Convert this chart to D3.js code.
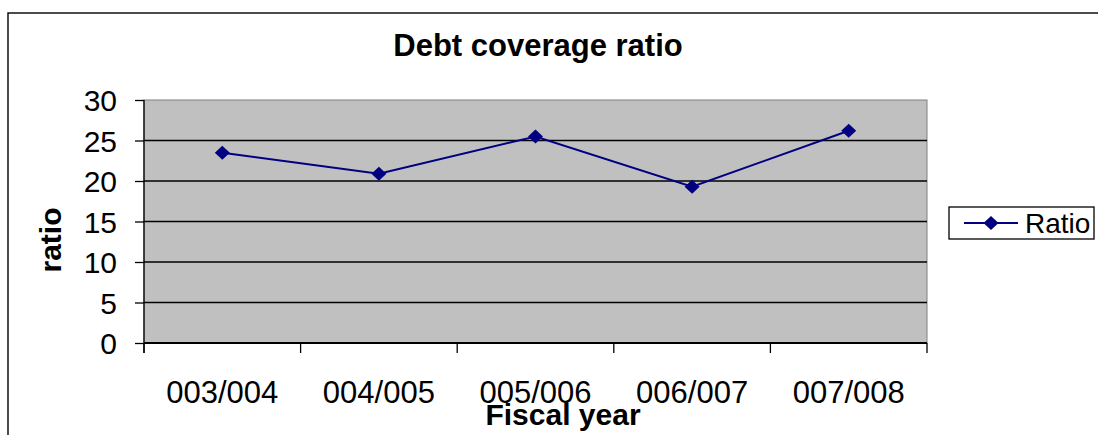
<!DOCTYPE html>
<html>
<head>
<meta charset="utf-8">
<script src="https://cdn.jsdelivr.net/npm/d3@7"></script>
<style>
  body { margin: 0; background: #fff; }
  svg { display: block; font-family: "Liberation Sans", Arial, sans-serif; }
</style>
</head>
<body>
<div id="chart-1"></div>
<script>
// data
var years = ['003/004', '004/005', '005/006', '006/007', '007/008']
var ratioValues = [23.5, 20.9, 25.5, 19.3, 26.2]
var yTicks = [0, 5, 10, 15, 20, 25, 30]
var seriesName = 'Ratio'

var width = 1098
var height = 435

// plot area box
var margin = {
  top: 100,
  right: 171,
  bottom: 92,
  left: 144
}

var svg = d3.select('#chart-1').append('svg')
  .attr('width', width)
  .attr('height', height)

// outer chart border (only top and left show in the frame)
svg.append('rect')
  .attr('x', 8)
  .attr('y', 13)
  .attr('width', width + 20)
  .attr('height', height + 20)
  .attr('fill', '#fff')
  .attr('stroke', '#000')
  .attr('stroke-width', 1.4)

var xScale = d3.scaleBand()
  .domain(years)
  .range([margin.left, width - margin.right])

var yScale = d3.scaleLinear()
  .domain([0, 30])
  .range([height - margin.bottom, margin.top])

// grey plot background
svg.append('rect')
  .attr('x', margin.left)
  .attr('y', margin.top)
  .attr('width', width - margin.right - margin.left)
  .attr('height', height - margin.bottom - margin.top)
  .attr('fill', '#c0c0c0')
  .attr('stroke', '#808080')
  .attr('stroke-width', 1)

// gridlines
svg.append('g')
  .selectAll('line')
  .data(yTicks.filter(d => d > 0 && d < 30))
  .join('line')
  .attr('x1', margin.left)
  .attr('x2', width - margin.right)
  .attr('y1', d => yScale(d))
  .attr('y2', d => yScale(d))
  .attr('stroke', '#000')
  .attr('stroke-width', 1.3)

// Y axis
var yAxis = d3.axisLeft(yScale)
  .tickValues(yTicks)
  .tickSize(9)
  .tickPadding(18)
  .tickFormat(d => d.toString())

var yG = svg.append('g')
  .attr('transform', 'translate(' + margin.left + ',0)')
  .call(yAxis)
yG.select('.domain').remove()
yG.append('line')
  .attr('x1', 0).attr('x2', 0)
  .attr('y1', margin.top).attr('y2', height - margin.bottom + 10)
  .attr('stroke', '#000')
  .attr('stroke-width', 1.3)
yG.selectAll('.tick line').attr('stroke', '#000').attr('stroke-width', 1.3)
yG.selectAll('.tick text')
  .attr('fill', '#000')
  .attr('font-size', 30)
  .attr('font-family', '"Liberation Sans", Arial, sans-serif')
  .attr('dy', '0.36em')

// X axis - ticks sit on the category boundaries
var xG = svg.append('g')
  .attr('transform', 'translate(0,' + (height - margin.bottom) + ')')

xG.append('line')
  .attr('x1', margin.left)
  .attr('x2', width - margin.right)
  .attr('y1', 0).attr('y2', 0)
  .attr('stroke', '#000')
  .attr('stroke-width', 2)

var bounds = years.map(d => xScale(d)).concat([width - margin.right])
xG.selectAll('.xtick')
  .data(bounds)
  .join('line')
  .attr('class', 'xtick')
  .attr('x1', d => d).attr('x2', d => d)
  .attr('y1', 0).attr('y2', 10)
  .attr('stroke', '#000')
  .attr('stroke-width', 1.3)

xG.selectAll('.xlabel')
  .data(years)
  .join('text')
  .attr('class', 'xlabel')
  .attr('x', d => xScale(d) + xScale.bandwidth() / 2)
  .attr('y', 60)
  .attr('text-anchor', 'middle')
  .attr('font-size', 31)
  .text(d => d)

// line + diamonds
var pts = years.map((d, i) => ({ year: d, value: ratioValues[i] }))
var line = d3.line()
  .x(d => xScale(d.year) + xScale.bandwidth() / 2)
  .y(d => yScale(d.value))

svg.append('path')
  .datum(pts)
  .attr('d', line)
  .attr('fill', 'none')
  .attr('stroke', '#000080')
  .attr('stroke-width', 2)

function diamond(cx, cy) {
  return 'M' + cx + ',' + (cy - 7) + 'L' + (cx + 7.5) + ',' + cy + 'L' + cx + ',' + (cy + 7) + 'L' + (cx - 7.5) + ',' + cy + 'Z'
}

svg.append('g')
  .selectAll('path')
  .data(pts)
  .join('path')
  .attr('d', d => diamond(xScale(d.year) + xScale.bandwidth() / 2, yScale(d.value)))
  .attr('fill', '#000080')

// titles
svg.append('text')
  .attr('x', 538)
  .attr('y', 56)
  .attr('text-anchor', 'middle')
  .attr('font-size', 31)
  .attr('font-weight', 'bold')
  .text('Debt coverage ratio')

svg.append('text')
  .attr('x', 563)
  .attr('y', 425)
  .attr('text-anchor', 'middle')
  .attr('font-size', 30)
  .attr('font-weight', 'bold')
  .text('Fiscal year')

svg.append('text')
  .attr('transform', 'translate(61,240) rotate(-90)')
  .attr('text-anchor', 'middle')
  .attr('font-size', 30)
  .attr('font-weight', 'bold')
  .text('ratio')

// legend
var legend = svg.append('g')
legend.append('rect')
  .attr('x', 949)
  .attr('y', 207)
  .attr('width', 145)
  .attr('height', 32)
  .attr('fill', '#fff')
  .attr('stroke', '#000')
  .attr('stroke-width', 1.3)
legend.append('line')
  .attr('x1', 964).attr('x2', 1018)
  .attr('y1', 223).attr('y2', 223)
  .attr('stroke', '#000080')
  .attr('stroke-width', 2)
legend.append('path')
  .attr('d', diamond(991, 223))
  .attr('fill', '#000080')
legend.append('text')
  .attr('x', 1025)
  .attr('y', 233)
  .attr('font-size', 28)
  .text(seriesName)
</script>
</body>
</html>
